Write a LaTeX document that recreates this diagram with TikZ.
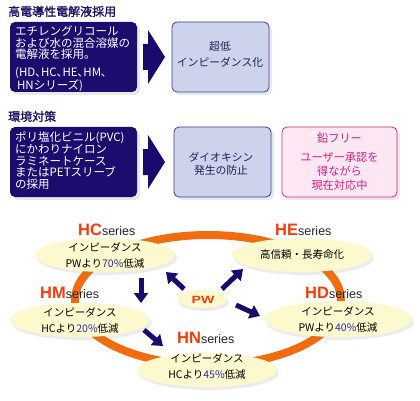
\documentclass[tikz,border=0pt]{standalone}
\usepackage{fontspec}
\setmainfont{Noto Sans CJK JP}
\newfontfamily\jpbold[FakeBold=1.5]{Noto Sans CJK JP}
\newfontfamily\arialf{Liberation Sans}
\usetikzlibrary{shapes.geometric,shadows,arrows.meta}
\definecolor{navybox}{HTML}{1C0C6E}
\definecolor{navytitle}{HTML}{1C1466}
\definecolor{lightbox}{HTML}{CDD3EA}
\definecolor{lightedge}{HTML}{3B3B9E}
\definecolor{lighttext}{HTML}{1E1E5A}
\definecolor{pinkfill}{HTML}{FDE7F2}
\definecolor{pinkedge}{HTML}{D6288A}
\definecolor{pinktext}{HTML}{D0207F}
\definecolor{ringorange}{HTML}{F26B0C}
\definecolor{yellfill}{HTML}{FCF9CF}
\definecolor{serred}{HTML}{F53B0C}
\definecolor{pcblue}{HTML}{2B2B9B}
\definecolor{arrnavy}{HTML}{1A0A6E}
\newcommand{\pcnt}[1]{\textcolor{pcblue}{#1}}
\newcommand{\serlab}[1]{{\arialf\bfseries\fontsize{16.5}{18}\selectfont\textcolor{serred}{#1}}{\arialf\fontsize{12.5}{14}\selectfont\textcolor{black!85}{series}}}
\begin{document}
\begin{tikzpicture}[x=1pt,y=-1pt,
  titlestyle/.style={anchor=base west,inner sep=0,text=navytitle,font=\jpbold\fontsize{12}{14}\selectfont},
  darkbox/.style={rounded corners=5pt,fill=navybox,minimum width=127,minimum height=70,inner sep=0,
     drop shadow={opacity=0.18,shadow xshift=3pt,shadow yshift=-3pt}},
  darktext/.style={anchor=north west,inner sep=0,text=white,align=left,font=\fontsize{11.5}{11.8}\selectfont},
  lbox/.style={rounded corners=5pt,fill=lightbox,draw=lightedge,line width=0.8pt,minimum width=97,minimum height=70,inner sep=0,
     drop shadow={opacity=0.18,shadow xshift=3pt,shadow yshift=-3pt}},
  pbox/.style={rounded corners=5pt,fill=pinkfill,draw=pinkedge,line width=0.8pt,minimum width=115,minimum height=70,inner sep=0,
     drop shadow={opacity=0.18,shadow xshift=3pt,shadow yshift=-3pt}},
  bigarrow/.style={fill=arrnavy},
  yell/.style={ellipse,fill=yellfill,inner sep=0,minimum width=140,minimum height=34,
     drop shadow={opacity=0.15,shadow xshift=2pt,shadow yshift=-3pt}},
  etext/.style={inner sep=0,align=center,font=\fontsize{10.5}{16}\selectfont},
  serieslab/.style={anchor=base west,inner sep=0},
  thickarrow/.style={draw=arrnavy,line width=5pt,-{Triangle[length=10pt,width=14pt]}},
  ring/.style={draw=ringorange,line width=8pt}
]
\useasboundingbox (0,0) rectangle (420,401);

% ---- section 1
\node[titlestyle] (t1) at (8,16) {高電導性電解液採用};
\node[darkbox] (d1) at (73.5,57) {};
\node[darktext] (d1t) at (15,25.5) {エチレングリコール\\および水の混合溶媒の\\電解液を採用。\\[6pt](HD､HC､HE､HM､\\\,HNシリーズ)};
\fill[bigarrow] (143,44) -- (148,44) -- (148,30) -- (165,57) -- (148,84) -- (148,70) -- (143,70) -- cycle;
\node[lbox] (l1) at (220.5,57) {};
\node[inner sep=0,align=center,text=lighttext,font=\fontsize{10.8}{16}\selectfont] (l1t) at (220,54) {超低\\インピーダンス化};

% ---- section 2
\node[titlestyle] (t2) at (8,121) {環境対策};
\node[darkbox] (d2) at (73.5,162) {};
\node[darktext] (d2t) at (15,131.5) {ポリ塩化ビニル(PVC)\\にかわりナイロン\\ラミネートケース\\またはPETスリーブ\\の採用};
\fill[bigarrow] (143,149) -- (148,149) -- (148,135) -- (165,162) -- (148,189) -- (148,175) -- (143,175) -- cycle;
\node[lbox] (l2) at (222.5,162) {};
\node[inner sep=0,align=center,text=lighttext,font=\fontsize{10.8}{13.5}\selectfont] (l2t) at (221,164) {ダイオキシン\\発生の防止};
\node[pbox] (p2) at (339.5,162) {};
\node[inner sep=0,align=center,text=pinktext,font=\fontsize{11.2}{14}\selectfont] (p2a) at (339.5,138.5) {鉛フリー};
\node[inner sep=0,align=center,text=pinktext,font=\fontsize{11.2}{14}\selectfont] (p2b) at (339.5,171) {ユーザー承認を\\得ながら\\現在対応中};

% ---- ring
\draw[ring] (208,300) ellipse [x radius=133, y radius=65];

% ---- ellipses
\node[yell] (hc) at (105,255) {};
\node[yell] (he) at (302,255) {};
\node[yell] (hm) at (80,320) {};
\node[yell] (hn) at (207,370) {};
\node[yell,minimum width=148,minimum height=36] (hd) at (338,319) {};
\node[yell,minimum width=50,minimum height=18] (pw) at (202,299) {};

\node[etext] (hct) at (105,255) {インピーダンス\\PWより\pcnt{70\%}低減};
\node[etext] (het) at (302,255) {高信頼・長寿命化};
\node[etext] (hmt) at (80,320) {インピーダンス\\HCより\pcnt{20\%}低減};
\node[etext] (hnt) at (207,366) {インピーダンス\\HCより\pcnt{45\%}低減};
\node[etext] (hdt) at (338,319) {インピーダンス\\PWより\pcnt{40\%}低減};
\node[inner sep=0,text=serred,font=\arialf\bfseries\fontsize{10.5}{12}\selectfont] (pwt) at (203,299.5) {\scalebox{1.35}[1]{PW}};

\node[serieslab] (hcl) at (78,235) {\serlab{HC}};
\node[serieslab] (hel) at (275,235) {\serlab{HE}};
\node[serieslab] (hml) at (40,298) {\serlab{HM}};
\node[serieslab] (hnl) at (177,343) {\serlab{HN}};
\node[serieslab] (hdl) at (305,298) {\serlab{HD}};

% ---- arrows
\coordinate (a1s) at (141,278); \coordinate (a1e) at (141,303);
\coordinate (a2s) at (184,289); \coordinate (a2e) at (166,272);
\coordinate (a3s) at (222,289); \coordinate (a3e) at (243,269);
\coordinate (a4s) at (236,305); \coordinate (a4e) at (260,316);
\coordinate (a5s) at (144,330); \coordinate (a5e) at (163,346);
\draw[thickarrow] (a1s) -- (a1e);
\draw[thickarrow] (a2s) -- (a2e);
\draw[thickarrow] (a3s) -- (a3e);
\draw[thickarrow] (a4s) -- (a4e);
\draw[thickarrow] (a5s) -- (a5e);
\end{tikzpicture}
\end{document}
